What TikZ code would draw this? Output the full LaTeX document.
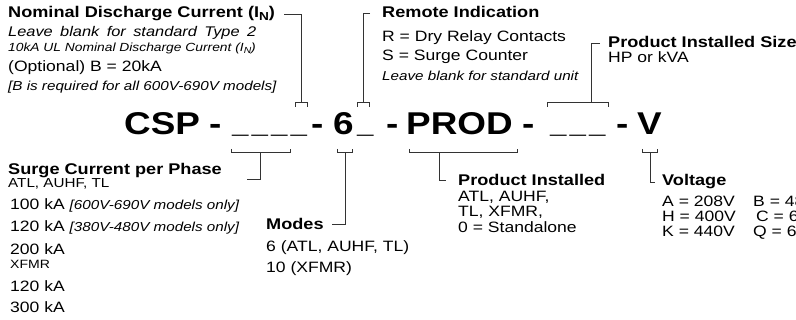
\documentclass[tikz,border=0pt]{standalone}
\usepackage{fontspec}
\setmainfont{Liberation Sans}[FakeStretch=1.17]
\newcommand\lowN{\raisebox{-0.3ex}{\scalebox{0.75}{N}}}
\newcommand\notefont{\fontsize{13}{15}\selectfont\itshape}
\newcommand\slot{\makebox[19.5pt][l]{\scalebox{0.8}[1]{\_}}}

\begin{document}
\begin{tikzpicture}[x=1pt,y=-1pt,
    hdr/.style={anchor=base west,inner sep=0pt,font=\fontsize{15.5}{18}\selectfont\bfseries},
    txt/.style={anchor=base west,inner sep=0pt,font=\fontsize{15}{18}\selectfont},
    note/.style={anchor=base west,inner sep=0pt,font=\notefont},
    small/.style={anchor=base west,inner sep=0pt,font=\fontsize{13}{15}\selectfont},
    tiny/.style={anchor=base west,inner sep=0pt,font=\fontsize{12}{14}\selectfont},
    code/.style={anchor=base west,inner sep=0pt,font=\fontsize{31.5}{36}\selectfont\bfseries},
    lead/.style={draw=black!80,line width=1pt}]

    \useasboundingbox (0,0) rectangle (796,320);
    \clip (0,0) rectangle (796,320);

    % part number
    \node[code] (csp) at (124,135) {CSP};
    \node[code] (d1) at (209,135) {-};
    \node[code] (s1) at (232,132.5) {\slot\slot\slot\slot};
    \node[code] (d2) at (311,135) {-};
    \node[code] (six) at (333,135) {6};
    \node[code] (s2) at (357,132.5) {\slot};
    \node[code] (d3) at (386,135) {-};
    \node[code] (prod) at (406,135) {PROD};
    \node[code] (d4) at (522,135) {-};
    \node[code] (s3) at (550,132.5) {\slot\slot\slot};
    \node[code] (d5) at (616,135) {-};
    \node[code] (v) at (637,135) {V};

    % brackets above and below
    \foreach \a/\b/\s/\n in {295/307/301/nomb, 357/369/363/remb, 547/608/591/sizeb} {
        \draw[lead] (\a,107) -- (\a,103) -- (\b,103) -- (\b,107);
        \coordinate (\n) at (\s,103);
    }
    \foreach \a/\b/\s/\n in {231/290/260/surgeb, 337/352/345/modesb, 409/517/439/prodb, 642/657/650/vb} {
        \draw[lead] (\a,149) -- (\a,153) -- (\b,153) -- (\b,149);
        \coordinate (\n) at (\s,153);
    }

    % Nominal Discharge Current
    \node[hdr] (nom) at (8,18) {Nominal Discharge Current (I\lowN)};
    \node[note,font=\fontsize{14}{16}\selectfont\itshape] (nom1) at (8,37) {\makebox[248pt][s]{Leave blank for standard Type 2}};
    \node[note,font=\fontsize{11.8}{14}\selectfont\itshape] (nom2) at (8,52) {10kA UL Nominal Discharge Current (I\lowN)};
    \node[txt] (nom3) at (8,72) {(Optional) B = 20kA};
    \node[note] (nom4) at (8,91) {[B is required for all 600V-690V models]};

    % Remote Indication
    \node[hdr] (rem) at (382,18) {Remote Indication};
    \node[txt] (rem1) at (382,42) {R = Dry Relay Contacts};
    \node[txt] (rem2) at (382,61) {S = Surge Counter};
    \node[note] (rem3) at (382,81) {Leave blank for standard unit};

    % Product Installed Size
    \node[hdr] (size) at (608,48) {Product Installed Size};
    \node[txt] (size1) at (608,63) {HP or kVA};

    % Surge Current per Phase
    \node[hdr] (surge) at (8,175) {Surge Current per Phase};
    \node[small] (surge1) at (8,188) {ATL, AUHF, TL};
    \node[txt] (surge2) at (10,210) {100 kA {\notefont[600V-690V models only]}};
    \node[txt] (surge3) at (10,232) {120 kA {\notefont[380V-480V models only]}};
    \node[txt] (surge4) at (10,255) {200 kA};
    \node[tiny] (surge5) at (10,269) {XFMR};
    \node[txt] (surge6) at (10,292) {120 kA};
    \node[txt] (surge7) at (10,313) {300 kA};

    % Modes
    \node[hdr] (modes) at (266,230) {Modes};
    \node[txt] (modes1) at (266,252) {6 (ATL, AUHF, TL)};
    \node[txt] (modes2) at (266,273) {10 (XFMR)};

    % Product Installed
    \node[hdr] (pi) at (458,186) {Product Installed};
    \node[txt] (pi1) at (458,202) {ATL, AUHF,};
    \node[txt] (pi2) at (458,217) {TL, XFMR,};
    \node[txt] (pi3) at (458,233) {0 = Standalone};

    % Voltage
    \node[hdr] (volt) at (662,186) {Voltage};
    \node[txt] (volt1) at (662,207) {A = 208V};
    \node[txt] (volt2) at (662,222) {H = 400V};
    \node[txt] (volt3) at (662,237) {K = 440V};
    \node[txt] (volt4) at (753,207) {B = 48};
    \node[txt] (volt5) at (756,222) {C = 6};
    \node[txt] (volt6) at (753,237) {Q = 6};

    % leaders
    \draw[lead] ([xshift=9pt]nom.east) -| (nomb);
    \draw[lead] ([xshift=-12pt,yshift=-1.5pt]rem.west) -| (remb);
    \draw[lead] ([xshift=-8pt,yshift=-1.5pt]size.west) -| (sizeb);
    \draw[lead] (surgeb) |- ([xshift=25pt,yshift=-1.5pt]surge.south east);
    \draw[lead] (modesb) |- ([xshift=8pt]modes.east);
    \draw[lead] (prodb) |- ([xshift=-12pt]pi.west);
    \draw[lead] (vb) |- ([xshift=-7pt]volt.west);

\end{tikzpicture}
\end{document}
